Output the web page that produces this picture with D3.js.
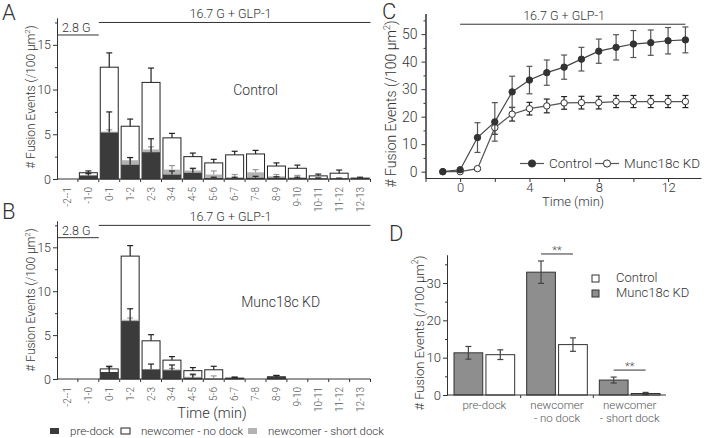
<!DOCTYPE html>
<html>
<head>
<meta charset="utf-8">
<script src="https://cdn.jsdelivr.net/npm/d3@7"></script>
<style>
body { margin: 0; background: #fff; }
text { font-family: Roboto, "Liberation Sans", Arial, sans-serif; font-weight: 300; fill: #333; }
</style>
</head>
<body>
<svg id="fig" width="704" height="438"></svg>
<script>
// ---- data ----
var cats = ["-2--1","-1-0","0-1","1-2","2-3","3-4","4-5","5-6","6-7","7-8","8-9","9-10","10-11","11-12","12-13"];

// panel A: control, segment heights per minute bin
var ctrlPre      = [0, 0.4, 5.2, 1.6, 3.0, 0.5, 0.7, 0.1, 0.1, 0.15, 0.15, 0.1, 0.05, 0.05, 0.1];
var ctrlPreErr   = [0, 0.2, 2.3, 0.8, 1.5, 0.4, 0.5, 0.1, 0.1, 0.15, 0.1, 0.1, 0.05, 0.05, 0];
var ctrlShort    = [0, 0, 0.1, 0.5, 0.3, 0.55, 0.25, 0.4, 0.1, 0.6, 0.15, 0.1, 0.05, 0, 0];
var ctrlShortErr = [0, 0, 0.2, 0.3, 0.3, 0.45, 0.2, 0.4, 0.3, 0.3, 0.2, 0.2, 0.1, 0, 0];
var ctrlNo       = [0, 0.3, 7.2, 3.8, 7.5, 3.55, 1.55, 1.3, 2.5, 2.05, 1.15, 1.0, 0.25, 0.6, 0];
var ctrlTotErr   = [0, 0.2, 1.6, 0.8, 1.6, 0.5, 0.4, 0.4, 0.4, 0.4, 0.35, 0.35, 0.2, 0.35, 0.1];

// panel B: Munc18c KD
var kdPre      = [0, 0, 0.8, 6.6, 1.1, 1.0, 0.15, 0, 0.1, 0, 0.25, 0, 0, 0, 0];
var kdPreErr   = [0, 0, 0.6, 1.4, 0.6, 0.6, 0.4, 0, 0.1, 0, 0.15, 0, 0, 0, 0];
var kdShort    = [0, 0, 0, 0.15, 0, 0.1, 0.1, 0.1, 0, 0, 0, 0, 0, 0, 0];
var kdShortErr = [0, 0, 0, 0.2, 0, 0.1, 0.2, 0.25, 0, 0, 0, 0, 0, 0, 0];
var kdNo       = [0, 0, 0.35, 7.25, 3.25, 1.05, 0.7, 0.95, 0, 0, 0, 0, 0, 0, 0];
var kdTotErr   = [0, 0, 0.3, 1.2, 0.7, 0.4, 0.35, 0.4, 0.1, 0, 0.15, 0, 0, 0, 0];

// panel C: cumulative events
var times      = [-1, 0, 1, 2, 3, 4, 5, 6, 7, 8, 9, 10, 11, 12, 13];
var ctrlCum    = [0, 0.7, 12.4, 18.1, 29.0, 33.3, 36.0, 38.0, 40.9, 43.8, 45.2, 46.4, 46.9, 47.6, 47.9];
var ctrlCumErr = [0, 0.3, 5.4, 7.0, 5.7, 5.0, 4.6, 4.4, 4.3, 4.4, 4.6, 4.9, 4.6, 4.8, 4.7];
var kdCum      = [0, 0, 1.1, 16.0, 20.9, 22.9, 23.9, 25.0, 25.1, 25.1, 25.5, 25.5, 25.5, 25.5, 25.5];
var kdCumErr   = [0, 0, 0.5, 2.4, 2.5, 2.3, 2.5, 2.3, 2.3, 2.3, 2.2, 2.2, 2.2, 2.2, 2.2];

// panel D: totals by type
var dGroups  = ["pre-dock", "newcomer|- no dock", "newcomer|- short dock"];
var dKD      = [11.3, 32.9, 4.0];
var dKDErr   = [1.7, 3.0, 0.8];
var dCtrl    = [10.8, 13.5, 0.4];
var dCtrlErr = [1.3, 1.8, 0.3];

var svg = d3.select("#fig");
var dark = "#3b3b3b", light = "#b3b3b3", ink = "#222";

function yLabel(g, x, y, size) {
  var t = g.append("text")
    .attr("transform", "translate(" + x + "," + y + ") rotate(-90)")
    .attr("text-anchor", "middle").style("font-size", size + "px");
  t.append("tspan").text("# Fusion Events (/100 \u03bcm");
  t.append("tspan").text("2").attr("dy", -size * 0.45).style("font-size", (size * 0.65) + "px");
  t.append("tspan").text(")").attr("dy", size * 0.45);
}

function panelLetter(s, x, y) {
  svg.append("text").attr("x", x).attr("y", y).style("font-size", "22px").text(s);
}

function styleAxis(a) {
  a.attr("font-family", null);
  a.selectAll("path, line").attr("stroke", "#333");
  a.selectAll("text").style("fill", "#333");
}

// ---- stacked bar panels A and B ----
function barPanel(o) {
  var g = svg.append("g");
  var x = d3.scaleBand().domain(cats).range([o.x0, o.x1]).paddingInner(0.14).paddingOuter(0.07);
  var y = d3.scaleLinear().domain([0, 18]).range([o.y0, o.y1]);
  var t = d3.scaleLinear().domain([-2, 13]).range([o.x0, o.x1]);

  var rows = cats.map(function(c, i) {
    var pre = o.pre[i], sh = pre + o.short[i];
    return { c: c, pre: pre, sh: sh, tot: sh + o.no[i],
             ePre: o.preErr[i], eSh: o.shortErr[i], eTot: o.totErr[i] };
  });

  g.selectAll(".tot").data(rows.filter(function(d) { return d.tot > 0; }))
    .enter().append("rect")
    .attr("x", function(d) { return x(d.c); })
    .attr("width", x.bandwidth())
    .attr("y", function(d) { return y(d.tot); })
    .attr("height", function(d) { return y(0) - y(d.tot); })
    .attr("fill", "#fff").attr("stroke", ink).attr("stroke-width", 1);

  g.selectAll(".sh").data(rows.filter(function(d) { return d.sh > d.pre; }))
    .enter().append("rect")
    .attr("x", function(d) { return x(d.c) + 0.5; })
    .attr("width", x.bandwidth() - 1)
    .attr("y", function(d) { return y(d.sh); })
    .attr("height", function(d) { return y(d.pre) - y(d.sh); })
    .attr("fill", light);

  g.selectAll(".pre").data(rows.filter(function(d) { return d.pre > 0; }))
    .enter().append("rect")
    .attr("x", function(d) { return x(d.c); })
    .attr("width", x.bandwidth())
    .attr("y", function(d) { return y(d.pre); })
    .attr("height", function(d) { return y(0) - y(d.pre); })
    .attr("fill", dark);

  function err(k, ek, col) {
    var sel = rows.filter(function(d) { return d[ek] > 0; });
    var cx = function(d) { return x(d.c) + x.bandwidth() / 2; };
    g.selectAll(null).data(sel).enter().append("line")
      .attr("x1", cx).attr("x2", cx)
      .attr("y1", function(d) { return y(d[k]); })
      .attr("y2", function(d) { return y(d[k] + d[ek]); })
      .attr("stroke", col).attr("stroke-width", 1.2);
    g.selectAll(null).data(sel).enter().append("line")
      .attr("x1", function(d) { return cx(d) - 3; })
      .attr("x2", function(d) { return cx(d) + 3; })
      .attr("y1", function(d) { return y(d[k] + d[ek]); })
      .attr("y2", function(d) { return y(d[k] + d[ek]); })
      .attr("stroke", col).attr("stroke-width", 1.2);
  }
  err("sh", "eSh", "#999");
  err("pre", "ePre", ink);
  err("tot", "eTot", ink);

  // axes
  var ya = g.append("g").attr("transform", "translate(" + o.x0 + ",0)")
    .call(d3.axisLeft(y).tickValues([0, 5, 10, 15]).tickSize(4).tickPadding(2).tickSizeOuter(0));
  ya.selectAll("text").style("font-size", "12.5px");
  styleAxis(ya);
  var ym = g.append("g").attr("transform", "translate(" + o.x0 + ",0)")
    .call(d3.axisLeft(y).tickValues([2.5, 7.5, 12.5, 17.5]).tickSize(2).tickFormat("").tickSizeOuter(0));
  styleAxis(ym);

  g.append("line").attr("x1", o.x0).attr("x2", o.x1).attr("y1", y(0)).attr("y2", y(0))
    .attr("stroke", "#333");
  g.selectAll(null).data(d3.range(-1, 14)).enter().append("line")
    .attr("x1", function(d) { return t(d); }).attr("x2", function(d) { return t(d); })
    .attr("y1", y(0)).attr("y2", y(0) + 3).attr("stroke", "#333");
  g.selectAll(null).data(cats).enter().append("text")
    .attr("transform", function(d) {
      return "translate(" + (x(d) + x.bandwidth() / 2 + 3.5) + "," + (y(0) + 8) + ") rotate(-90)";
    })
    .attr("text-anchor", "end").style("font-size", "10px").style("fill", "#555")
    .text(function(d) { return d; });

  // stimulus bars
  g.append("line").attr("x1", t(-2)).attr("x2", t(0)).attr("y1", y(16.1)).attr("y2", y(16.1))
    .attr("stroke", "#333");
  g.append("text").attr("x", t(-2) + 5).attr("y", y(16.1) - 3).style("font-size", "12.5px").text("2.8 G");
  g.append("line").attr("x1", t(0)).attr("x2", t(13)).attr("y1", y(17.5)).attr("y2", y(17.5))
    .attr("stroke", "#333");
  g.append("text").attr("x", t(6.3)).attr("y", y(17.5) - 4.5).attr("text-anchor", "middle")
    .style("font-size", "12.5px").text("16.7 G + GLP-1");

  g.append("text").attr("x", t(o.tagX)).attr("y", y(o.tagY)).attr("text-anchor", "middle")
    .style("font-size", "14px").text(o.tag);

  yLabel(g, 35, o.labelY, 12);
}

barPanel({ x0: 57, x1: 370.5, y0: 179, y1: 18, pre: ctrlPre, preErr: ctrlPreErr,
  short: ctrlShort, shortErr: ctrlShortErr, no: ctrlNo, totErr: ctrlTotErr,
  tag: "Control", tagX: 7.5, tagY: 9.4, labelY: 97 });
barPanel({ x0: 57, x1: 370.5, y0: 379, y1: 221, pre: kdPre, preErr: kdPreErr,
  short: kdShort, shortErr: kdShortErr, no: kdNo, totErr: kdTotErr,
  tag: "Munc18c KD", tagX: 8.7, tagY: 8.2, labelY: 300 });

svg.append("text").attr("x", 212).attr("y", 418).attr("text-anchor", "middle")
  .style("font-size", "14.5px").text("Time (min)");

// bottom legend
var legAB = [
  { label: "pre-dock", fill: dark, stroke: "none", x: 50 },
  { label: "newcomer - no dock", fill: "#fff", stroke: ink, x: 121 },
  { label: "newcomer - short dock", fill: light, stroke: "none", x: 248 }
];
var lg = svg.append("g").selectAll("g").data(legAB).enter().append("g");
lg.append("rect").attr("x", function(d) { return d.x; }).attr("y", 428).attr("width", 9).attr("height", 6)
  .attr("fill", function(d) { return d.fill; }).attr("stroke", function(d) { return d.stroke; });
lg.append("text").attr("x", function(d) { return d.x + 20; }).attr("y", 434.5)
  .style("font-size", "11.5px").text(function(d) { return d.label; });

panelLetter("A", 2, 20);
panelLetter("B", 2, 219);

// ---- panel C ----
(function() {
  var g = svg.append("g");
  var x = d3.scaleLinear().domain([-2, 13.9]).range([425.5, 701]);
  var y = d3.scaleLinear().domain([-2.3, 57.5]).range([178, 13.5]);

  var xa = g.append("g").attr("transform", "translate(0," + y.range()[0] + ")")
    .call(d3.axisBottom(x).tickValues(d3.range(-2, 14, 2)).tickSize(4).tickPadding(1).tickSizeOuter(0)
      .tickFormat(function(d) { return d % 4 === 0 ? d : ""; }));
  xa.selectAll("text").style("font-size", "13px");
  styleAxis(xa);
  var ya = g.append("g").attr("transform", "translate(" + x.range()[0] + ",0)")
    .call(d3.axisLeft(y).tickValues(d3.range(0, 51, 10)).tickSize(4).tickPadding(4).tickSizeOuter(0));
  ya.selectAll("text").style("font-size", "14px");
  styleAxis(ya);
  var ym = g.append("g").attr("transform", "translate(" + x.range()[0] + ",0)")
    .call(d3.axisLeft(y).tickValues(d3.range(5, 56, 10)).tickSize(2).tickFormat("").tickSizeOuter(0));
  styleAxis(ym);

  g.append("line").attr("x1", x(0)).attr("x2", x(13)).attr("y1", y(53.6)).attr("y2", y(53.6))
    .attr("stroke", "#333");
  g.append("text").attr("x", x(6)).attr("y", y(53.6) - 4).attr("text-anchor", "middle")
    .style("font-size", "12.5px").text("16.7 G + GLP-1");

  function series(vals, errs, col, errCol, filled) {
    var pts = times.map(function(t, i) { return { t: t, v: vals[i], e: errs[i] }; });
    var withErr = pts.filter(function(d) { return d.e > 0.4; });
    g.selectAll(null).data(withErr).enter().append("line")
      .attr("x1", function(d) { return x(d.t); }).attr("x2", function(d) { return x(d.t); })
      .attr("y1", function(d) { return y(d.v - d.e); }).attr("y2", function(d) { return y(d.v + d.e); })
      .attr("stroke", errCol).attr("stroke-width", 1.2);
    [1, -1].forEach(function(s) {
      g.selectAll(null).data(withErr).enter().append("line")
        .attr("x1", function(d) { return x(d.t) - 3; }).attr("x2", function(d) { return x(d.t) + 3; })
        .attr("y1", function(d) { return y(d.v + s * d.e); }).attr("y2", function(d) { return y(d.v + s * d.e); })
        .attr("stroke", errCol).attr("stroke-width", 1.2);
    });
    g.append("path").datum(pts)
      .attr("d", d3.line().x(function(d) { return x(d.t); }).y(function(d) { return y(d.v); }))
      .attr("fill", "none").attr("stroke", col).attr("stroke-width", 1.2);
    g.selectAll(null).data(pts).enter().append("circle")
      .attr("cx", function(d) { return x(d.t); }).attr("cy", function(d) { return y(d.v); })
      .attr("r", 3.2).attr("fill", filled ? "#333" : "#fff").attr("stroke", "#333").attr("stroke-width", 1);
  }
  series(kdCum, kdCumErr, "#555", ink, false);
  series(ctrlCum, ctrlCumErr, "#444", "#555", true);

  // legend
  var leg = [
    { label: "Control", filled: true, x: 520 },
    { label: "Munc18c KD", filled: false, x: 595 }
  ];
  var lg = g.selectAll(".lg").data(leg).enter().append("g");
  lg.append("line").attr("x1", function(d) { return d.x; }).attr("x2", function(d) { return d.x + 24; })
    .attr("y1", 163.5).attr("y2", 163.5).attr("stroke", "#555").attr("stroke-width", 1.2);
  lg.append("circle").attr("cx", function(d) { return d.x + 12; }).attr("cy", 163.5).attr("r", 3.6)
    .attr("fill", function(d) { return d.filled ? "#333" : "#fff"; }).attr("stroke", "#333");
  lg.append("text").attr("x", function(d) { return d.x + 29; }).attr("y", 168)
    .style("font-size", "13.5px").text(function(d) { return d.label; });

  g.append("text").attr("x", 573).attr("y", 206).attr("text-anchor", "middle")
    .style("font-size", "13px").text("Time (min)");
  yLabel(g, 396, 104, 14);
})();
panelLetter("C", 382, 19);

// ---- panel D ----
(function() {
  var g = svg.append("g");
  var x = d3.scaleBand().domain(dGroups).range([448, 666]);
  var sub = d3.scaleBand().domain(["KD", "Control"]).range([6, x.bandwidth() - 6]).paddingInner(0.1);
  var y = d3.scaleLinear().domain([0, 37.5]).range([395, 255]);

  var rows = [];
  dGroups.forEach(function(gr, i) {
    rows.push({ g: gr, k: "KD", v: dKD[i], e: dKDErr[i] });
    rows.push({ g: gr, k: "Control", v: dCtrl[i], e: dCtrlErr[i] });
  });
  var bx = function(d) { return x(d.g) + sub(d.k); };
  var cx = function(d) { return bx(d) + sub.bandwidth() / 2; };

  g.selectAll(null).data(rows).enter().append("rect")
    .attr("x", bx).attr("width", sub.bandwidth())
    .attr("y", function(d) { return y(d.v); })
    .attr("height", function(d) { return y(0) - y(d.v); })
    .attr("fill", function(d) { return d.k === "KD" ? "#8e8e8e" : "#fff"; })
    .attr("stroke", "#333").attr("stroke-width", 1);

  g.selectAll(null).data(rows).enter().append("line")
    .attr("x1", cx).attr("x2", cx)
    .attr("y1", function(d) { return y(Math.max(0, d.v - d.e)); })
    .attr("y2", function(d) { return y(d.v + d.e); })
    .attr("stroke", "#444").attr("stroke-width", 1.2);
  [1, -1].forEach(function(s) {
    g.selectAll(null).data(rows).enter().append("line")
      .attr("x1", function(d) { return cx(d) - 3; }).attr("x2", function(d) { return cx(d) + 3; })
      .attr("y1", function(d) { return y(Math.max(0, d.v + s * d.e)); })
      .attr("y2", function(d) { return y(Math.max(0, d.v + s * d.e)); })
      .attr("stroke", "#444").attr("stroke-width", 1.2);
  });

  var ya = g.append("g").attr("transform", "translate(447,0)")
    .call(d3.axisLeft(y).tickValues([0, 10, 20, 30]).tickSize(4).tickPadding(2).tickSizeOuter(0));
  ya.selectAll("text").style("font-size", "13px");
  styleAxis(ya);
  var ym = g.append("g").attr("transform", "translate(447,0)")
    .call(d3.axisLeft(y).tickValues([5, 15, 25, 35]).tickSize(2).tickFormat("").tickSizeOuter(0));
  styleAxis(ym);

  g.append("line").attr("x1", 447).attr("x2", 666).attr("y1", y(0)).attr("y2", y(0)).attr("stroke", "#333");
  g.selectAll(null).data(dGroups.slice(1)).enter().append("line")
    .attr("x1", function(d) { return x(d); }).attr("x2", function(d) { return x(d); })
    .attr("y1", y(0)).attr("y2", y(0) + 3).attr("stroke", "#333");

  var lbl = g.selectAll(null).data(dGroups).enter().append("text")
    .attr("text-anchor", "middle").style("font-size", "11.5px").style("fill", "#555");
  lbl.each(function(d) {
    var el = d3.select(this);
    d.split("|").forEach(function(s, j) {
      el.append("tspan").attr("x", x(d) + x.bandwidth() / 2).attr("y", 409 + j * 13).text(s);
    });
  });

  // significance
  [1, 2].forEach(function(i) {
    var gr = dGroups[i];
    var top = Math.max(dKD[i] + dKDErr[i], dCtrl[i] + dCtrlErr[i]);
    var ly = y(top) - 7;
    var a = x(gr) + sub("KD") + sub.bandwidth() / 2, b = x(gr) + sub("Control") + sub.bandwidth() / 2;
    g.append("line").attr("x1", a).attr("x2", b).attr("y1", ly).attr("y2", ly).attr("stroke", "#333");
    g.append("text").attr("x", (a + b) / 2).attr("y", ly).attr("text-anchor", "middle")
      .style("font-size", "11px").style("fill", "#555").text("**");
  });

  var leg = [{ label: "Control", fill: "#fff", y: 275 }, { label: "Munc18c KD", fill: "#8e8e8e", y: 290 }];
  var lg = g.selectAll(".lg").data(leg).enter().append("g");
  lg.append("rect").attr("x", 592).attr("y", function(d) { return d.y; }).attr("width", 7).attr("height", 7)
    .attr("fill", function(d) { return d.fill; }).attr("stroke", "#333");
  lg.append("text").attr("x", 616).attr("y", function(d) { return d.y + 7; })
    .style("font-size", "13px").text(function(d) { return d.label; });

  yLabel(g, 424, 333, 13);
})();
panelLetter("D", 389, 241);
</script>
</body>
</html>
